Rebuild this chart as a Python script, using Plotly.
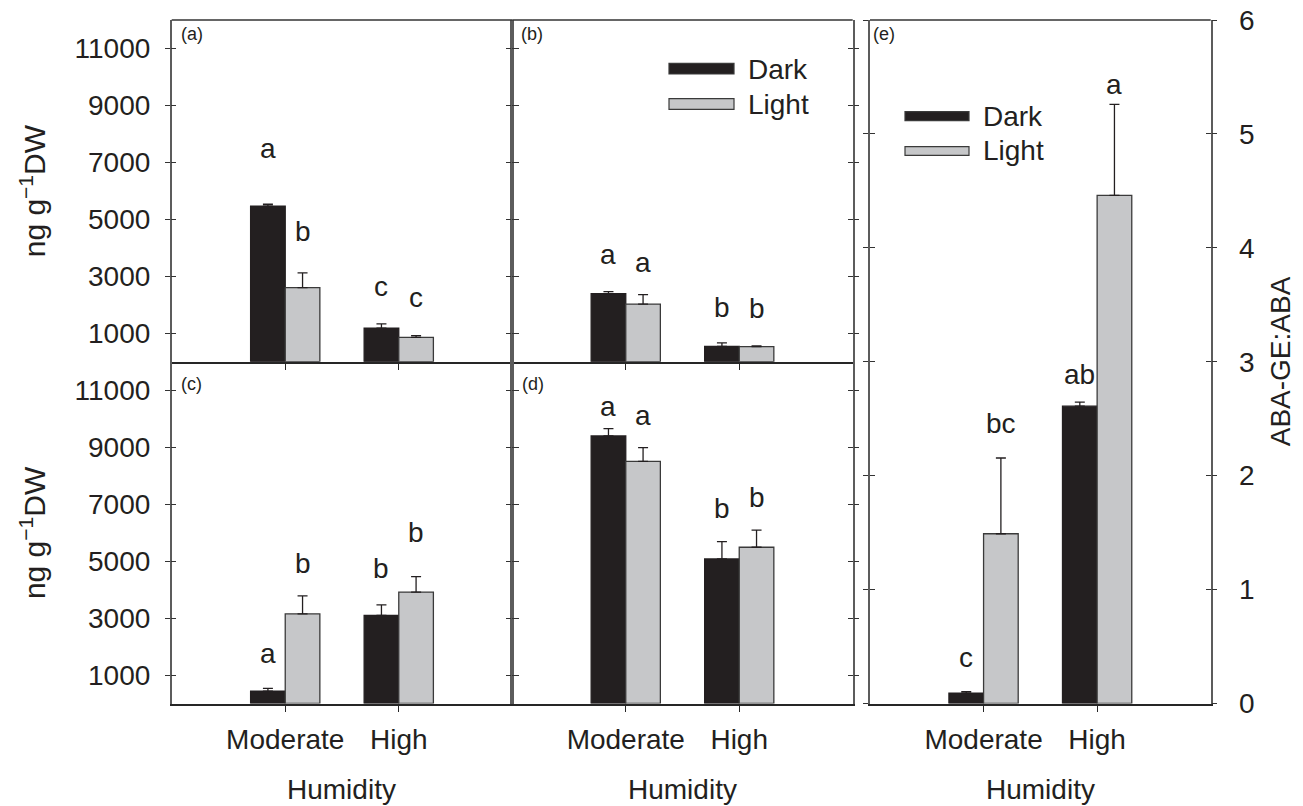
import plotly.graph_objects as go

# ---------------- data ----------------
humidity = ["Moderate", "High"]

# panels (a)-(d): concentration, ng g-1 DW (mean and SE)
a_dark = [5460, 1175]
a_dark_se = [70, 155]
a_light = [2600, 857]
a_light_se = [516, 60]

b_dark = [2389, 540]
b_dark_se = [70, 120]
b_light = [2022, 529]
b_light_se = [331, 25]

c_dark = [437, 3091]
c_dark_se = [95, 374]
c_light = [3148, 3912]
c_light_se = [634, 539]

d_dark = [9394, 5074]
d_dark_se = [257, 609]
d_light = [8500, 5486]
d_light_se = [482, 599]

# panel (e): ABA-GE:ABA ratio
e_dark = [0.09, 2.61]
e_dark_se = [0.015, 0.035]
e_light = [1.49, 4.46]
e_light_se = [0.665, 0.80]

# significance letters
a_dark_sig, a_light_sig = ["a", "c"], ["b", "c"]
b_dark_sig, b_light_sig = ["a", "b"], ["a", "b"]
c_dark_sig, c_light_sig = ["a", "b"], ["b", "b"]
d_dark_sig, d_light_sig = ["a", "b"], ["a", "b"]
e_dark_sig, e_light_sig = ["c", "ab"], ["bc", "a"]

ng_ticks = [1000, 3000, 5000, 7000, 9000, 11000]
ng_tick_text = ["1000", "3000", "5000", "7000", "9000", "11000"]
ratio_ticks = [0, 1, 2, 3, 4, 5, 6]
ratio_tick_text = ["0", "1", "2", "3", "4", "5", "6"]

# ---------------- layout helpers ----------------
W, H = 1303, 806
FONT = "Liberation Sans, Arial, Helvetica, sans-serif"
FS = 28
INK = "#231f20"
GREY = "#c6c7c9"
EDGE = "#3a3a3a"
AXIS_V = "#5c5c5c"
AXIS_H = "#262626"


def fx(p):
    return p / W


def fy(p):
    return 1 - p / H


col1, col2, col3 = (171.7, 512.3), (512.3, 852.7), (870.0, 1210.7)
row1, row2, full = (20.0, 361.7), (361.7, 703.5), (20.0, 703.5)


def xdom(c):
    return [fx(c[0]), fx(c[1])]


def ydom(r):
    return [fy(r[1]), fy(r[0])]


BARGAP = 0.39
half = (1 - BARGAP) / 4  # offset of each bar centre from its category

# letter lift above the error-bar cap, in pixels
lift = {
    "a": ([46, 28.3], [32, 28.3]),
    "b": ([27.3, 26.3], [22.6, 28]),
    "c": ([25.3, 26.4], [22.4, 35]),
    "d": ([12.3, 23.4], [23, 23.6]),
    "e": ([24.4, 18.4], [25.3, 10.7]),
}

panels = [
    # key, n, col, row, dark, dark_se, light, light_se, sigs, range, ticks, tick text, side, labels_y, labels_x
    ("a", 1, col1, row1, a_dark, a_dark_se, a_light, a_light_se, (a_dark_sig, a_light_sig), [0, 12000], ng_ticks, ng_tick_text, "left", True, False),
    ("b", 2, col2, row1, b_dark, b_dark_se, b_light, b_light_se, (b_dark_sig, b_light_sig), [0, 12000], ng_ticks, ng_tick_text, "left", False, False),
    ("c", 3, col1, row2, c_dark, c_dark_se, c_light, c_light_se, (c_dark_sig, c_light_sig), [0, 12000], ng_ticks, ng_tick_text, "left", True, True),
    ("d", 4, col2, row2, d_dark, d_dark_se, d_light, d_light_se, (d_dark_sig, d_light_sig), [0, 12000], ng_ticks, ng_tick_text, "left", False, True),
    ("e", 5, col3, full, e_dark, e_dark_se, e_light, e_light_se, (e_dark_sig, e_light_sig), [0, 6], ratio_ticks, ratio_tick_text, "right", True, True),
]

fig = go.Figure()
layout = dict(
    width=W, height=H,
    margin=dict(l=0, r=0, t=0, b=0, pad=0),
    paper_bgcolor="white", plot_bgcolor="white",
    barmode="group", bargap=BARGAP, bargroupgap=0,
    showlegend=False,
    font=dict(family=FONT, size=FS, color=INK),
)
annotations = []
shapes = []

for key, n, col, row, dk, dk_se, lt, lt_se, sigs, yr, ticks, ticktext, side, show_y, show_x in panels:
    xa = "x" if n == 1 else f"x{n}"
    ya = "y" if n == 1 else f"y{n}"
    over = f"y{n + 5}"

    for vals, se, fill in ((dk, dk_se, INK), (lt, lt_se, GREY)):
        fig.add_trace(go.Bar(
            x=humidity, y=vals,
            xaxis=xa, yaxis=ya,
            marker=dict(color=fill, line=dict(color=EDGE if fill == GREY else INK, width=1.3)),
            error_y=dict(type="data", symmetric=False, array=se, arrayminus=[0] * len(se),
                         color=INK, thickness=1.3, width=5),
            hoverinfo="skip",
        ))
    # empty trace that carries the inward-tick overlay axis
    fig.add_trace(go.Scatter(x=[], y=[], xaxis=xa, yaxis=over, hoverinfo="skip"))

    layout["xaxis" if n == 1 else f"xaxis{n}"] = dict(
        domain=xdom(col), anchor=ya, type="category", range=[-1, 2], automargin=False,
        showline=True, linecolor=AXIS_H, linewidth=2,
        ticks="outside", ticklen=6, tickwidth=1.3, tickcolor=AXIS_H,
        showticklabels=show_x, tickfont=dict(size=FS, color=INK),
        ticklabelstandoff=4,
        showgrid=False, zeroline=False, fixedrange=True,
    )
    common_y = dict(
        range=yr, tickvals=ticks, ticktext=ticktext, side=side, automargin=False,
        showgrid=False, zeroline=False, fixedrange=True,
        ticklen=5, tickwidth=1.3, tickcolor="#333333",
        mirror="ticks", showline=True, linecolor=AXIS_V, linewidth=1.5,
    )
    layout["yaxis" if n == 1 else f"yaxis{n}"] = dict(
        domain=ydom(row), anchor=xa, ticks="outside",
        showticklabels=show_y, tickfont=dict(size=FS, color=INK),
        ticklabelstandoff=9 if side == "left" else 16,
        **common_y,
    )
    layout[f"yaxis{n + 5}"] = dict(
        overlaying=ya, anchor=xa, ticks="inside", showticklabels=False,
        **common_y,
    )

    # significance letters above each error bar
    for s, (vals, se, letters) in enumerate(((dk, dk_se, sigs[0]), (lt, lt_se, sigs[1]))):
        for i, (v, e, t) in enumerate(zip(vals, se, letters)):
            annotations.append(dict(
                x=i + (-half if s == 0 else half), y=v + e, xref=xa, yref=ya,
                text=t, showarrow=False, xanchor="center", yanchor="bottom",
                yshift=lift[key][s][i] - 8, font=dict(size=FS, color=INK),
            ))

# top borders of the upper panels
for xa, ya in (("x", "y"), ("x2", "y2"), ("x5", "y5")):
    shapes.append(dict(type="line", xref=f"{xa} domain", yref=f"{ya} domain",
                       x0=0, x1=1, y0=1, y1=1, line=dict(color="#333333", width=1.3)))

# panel tags
for tag, px, py in (("(a)", 179.5, 34.5), ("(b)", 518.5, 34.5), ("(c)", 179.5, 384),
                    ("(d)", 519.5, 384), ("(e)", 871.0, 34.5)):
    annotations.append(dict(x=fx(px), y=fy(py), xref="paper", yref="paper", text=tag,
                            showarrow=False, xanchor="left", yanchor="middle",
                            font=dict(size=18, color=INK)))

# legends drawn as wide swatches with labels
for sx0, sx1, tx, items in (
    (669, 734, 746, ((63.3, 74.0, INK, "Dark", 69.3), (98.7, 109.3, GREY, "Light", 104.0))),
    (905, 969, 981, ((111.7, 120.7, INK, "Dark", 116.0), (146.7, 155.3, GREY, "Light", 151.0))),
):
    for y0, y1, fill, label, ty in items:
        shapes.append(dict(type="rect", xref="paper", yref="paper",
                           x0=fx(sx0), x1=fx(sx1), y0=fy(y1), y1=fy(y0),
                           fillcolor=fill, line=dict(color=EDGE, width=1.2)))
        annotations.append(dict(x=fx(tx), y=fy(ty), xref="paper", yref="paper", text=label,
                                showarrow=False, xanchor="left", yanchor="middle",
                                font=dict(size=FS, color=INK)))

# axis titles
for cy in (190.8, 532.6):
    annotations.append(dict(x=fx(53.5), y=fy(cy), xref="paper", yref="paper",
                            text="ng g<sup>\u22121</sup>DW", textangle=-90, showarrow=False,
                            xanchor="right", yanchor="middle", font=dict(size=30, color=INK)))
annotations.append(dict(x=fx(1263), y=fy(361.8), xref="paper", yref="paper",
                        text="ABA-GE:ABA", textangle=-90, showarrow=False,
                        xanchor="left", yanchor="middle", font=dict(size=FS, color=INK)))
for cx in (342.0, 682.5, 1040.4):
    annotations.append(dict(x=fx(cx), y=fy(805), xref="paper", yref="paper",
                            text="Humidity", showarrow=False, borderpad=0, borderwidth=0,
                            xanchor="center", yanchor="bottom", font=dict(size=FS, color=INK)))

layout["annotations"] = annotations
layout["shapes"] = shapes
fig.update_layout(**layout)

fig.write_html("out.html")
